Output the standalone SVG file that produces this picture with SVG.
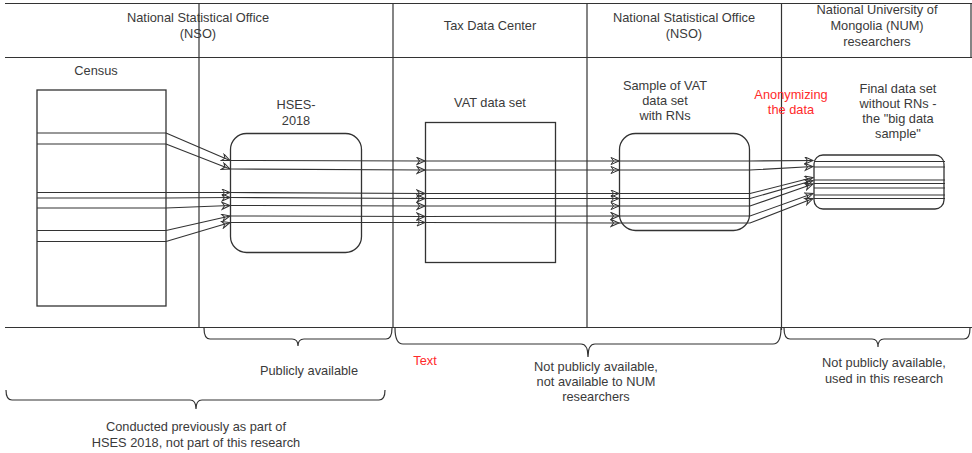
<svg xmlns="http://www.w3.org/2000/svg" width="972" height="453" viewBox="0 0 972 453">
<defs>
<marker id="arr" markerUnits="userSpaceOnUse" markerWidth="12" markerHeight="10" refX="9" refY="4" orient="auto">
<path d="M1,0.5 L9,4 L1,7.5 L3.5,4 Z" fill="none" stroke="#333" stroke-width="1"/>
</marker>
<style>
.ln{stroke:#333;stroke-width:1.2;fill:none}
.box{stroke:#333;stroke-width:1.3;fill:none}
.t{font-family:"Liberation Sans",Arial,sans-serif;font-size:12.8px;fill:#3a3a3a;text-anchor:middle}
.r{fill:#ff2a2a}
.fl{stroke:#333;stroke-width:1.1;fill:none;marker-end:url(#arr)}
</style>
</defs>
<g id="frame">
<line class="ln" x1="5" y1="3.5" x2="972" y2="3.5"/>
<line class="ln" x1="5" y1="57.5" x2="972" y2="57.5"/>
<line class="ln" x1="5" y1="327.5" x2="972" y2="327.5"/>
<line class="ln" x1="199" y1="3" x2="199" y2="328"/>
<line class="ln" x1="393" y1="3" x2="393" y2="328"/>
<line class="ln" x1="587" y1="3" x2="587" y2="328"/>
<line class="ln" x1="781.5" y1="3" x2="781.5" y2="330"/>
<line class="ln" x1="971" y1="3" x2="971" y2="57"/>
</g>
<g id="hdr-nso1"><text class="t" x="198" y="22">National Statistical Office</text><text class="t" x="198" y="38">(NSO)</text></g>
<g id="hdr-tax"><text class="t" x="490" y="30">Tax Data Center</text></g>
<g id="hdr-nso2"><text class="t" x="684" y="22">National Statistical Office</text><text class="t" x="684" y="38">(NSO)</text></g>
<g id="hdr-num"><text class="t" x="877" y="14">National University of</text><text class="t" x="877" y="30">Mongolia (NUM)</text><text class="t" x="877" y="46">researchers</text></g>

<g id="census">
<text class="t" x="96" y="75">Census</text>
<rect class="box" x="37" y="90" width="129" height="216"/>
<line class="ln" x1="37" y1="133" x2="166" y2="133"/>
<line class="ln" x1="37" y1="144" x2="166" y2="144"/>
<line class="ln" x1="37" y1="192.5" x2="166" y2="192.5"/>
<line class="ln" x1="37" y1="198" x2="166" y2="198"/>
<line class="ln" x1="37" y1="208" x2="166" y2="208"/>
<line class="ln" x1="37" y1="230.5" x2="166" y2="230.5"/>
<line class="ln" x1="37" y1="241.5" x2="166" y2="241.5"/>
</g>
<g id="hses">
<text class="t" x="296" y="109">HSES-</text><text class="t" x="296" y="125">2018</text>
<rect class="box" x="230.5" y="133.5" width="131" height="119" rx="16"/>
</g>
<g id="vat">
<text class="t" x="490" y="107">VAT data set</text>
<rect class="box" x="425.5" y="122.5" width="130" height="140"/>
</g>
<g id="sample">
<text class="t" x="665" y="90">Sample of VAT</text><text class="t" x="665" y="105">data set</text><text class="t" x="665" y="120">with RNs</text>
<rect class="box" x="619.5" y="133.5" width="130" height="97" rx="16"/>
</g>
<g id="anon"><text class="t r" x="791" y="99">Anonymizing</text><text class="t r" x="791" y="114">the data</text></g>
<g id="final">
<text class="t" x="898" y="93">Final data set</text><text class="t" x="898" y="108">without RNs -</text><text class="t" x="898" y="123">the "big data</text><text class="t" x="898" y="138">sample"</text>
<rect class="box" x="814" y="155" width="130" height="54" rx="9"/>
<line class="ln" x1="814" y1="161.5" x2="945" y2="161.5"/>
<line class="ln" x1="814" y1="167" x2="945" y2="167"/>
<line class="ln" x1="814" y1="180" x2="945" y2="180"/>
<line class="ln" x1="814" y1="183.5" x2="945" y2="183.5"/>
<line class="ln" x1="814" y1="188" x2="945" y2="188"/>
<line class="ln" x1="814" y1="195" x2="945" y2="195"/>
<line class="ln" x1="814" y1="198.5" x2="945" y2="198.5"/>
</g>
<g id="connectors">
<path class="fl" d="M166,133 L230,160.5"/>
<path class="fl" d="M166,144 L230,169"/>
<path class="fl" d="M166,192.5 L230,192.5"/>
<path class="fl" d="M166,198 L230,197.5"/>
<path class="fl" d="M166,208 L230,205.5"/>
<path class="fl" d="M166,230.5 L230,216"/>
<path class="fl" d="M166,241.5 L230,222.5"/>

<path class="fl" d="M230,160.5 L425,161"/>
<path class="fl" d="M230,169 L425,170"/>
<path class="fl" d="M230,192.5 L425,193.5"/>
<path class="fl" d="M230,197.5 L425,198.5"/>
<path class="fl" d="M230,205.5 L425,206"/>
<path class="fl" d="M230,216 L425,216.5"/>
<path class="fl" d="M230,222.5 L425,222.5"/>

<path class="fl" d="M425,161 L619,161"/>
<path class="fl" d="M425,170 L619,170"/>
<path class="fl" d="M425,193.5 L619,193.5"/>
<path class="fl" d="M425,198.5 L619,198.5"/>
<path class="fl" d="M425,206 L619,206"/>
<path class="fl" d="M425,216.5 L619,216"/>
<path class="fl" d="M425,222.5 L619,223"/>

<path class="fl" d="M619,161 L750,161 L813,160.5"/>
<path class="fl" d="M619,170 L750,170 L813,166.5"/>
<path class="fl" d="M619,193.5 L750,193.5 L813,177.5"/>
<path class="fl" d="M619,198.5 L750,198.5 L813,180.5"/>
<path class="fl" d="M619,206 L750,206 L813,184"/>
<path class="fl" d="M619,216 L750,216 L813,193.5"/>
<path class="fl" d="M619,223 L750,223 L813,198.5"/>
</g>
<g id="brace1">
<path class="ln" d="M204,328 Q204,339 210,339 L292,339 Q298,339 298,346 Q298,339 304,339 L386,339 Q392,339 392,328"/>
<text class="t" x="309" y="375">Publicly available</text>
</g>
<g id="label-text"><text class="t r" x="425" y="365">Text</text></g>
<g id="brace2">
<path class="ln" d="M395,328 Q395,344 403,344 L581,344 Q588,344 588,357 Q588,344 595,344 L773,344 Q781,344 781,328"/>
<text class="t" x="596" y="371">Not publicly available,</text>
<text class="t" x="596" y="386">not available to NUM</text>
<text class="t" x="596" y="401">researchers</text>
</g>
<g id="brace3">
<path class="ln" d="M784,328 Q784,339 790,339 L872,339 Q878,339 878,347 Q878,339 884,339 L964,339 Q970,339 970,328"/>
<text class="t" x="884" y="367">Not publicly available,</text>
<text class="t" x="884" y="383">used in this research</text>
</g>
<g id="brace4">
<path class="ln" d="M6,390 Q6,400 12,400 L190,400 Q196,400 196,409 Q196,400 202,400 L379,400 Q385,400 385,390"/>
<text class="t" x="196" y="431">Conducted previously as part of</text>
<text class="t" x="196" y="447">HSES 2018, not part of this research</text>
</g>
</svg>
